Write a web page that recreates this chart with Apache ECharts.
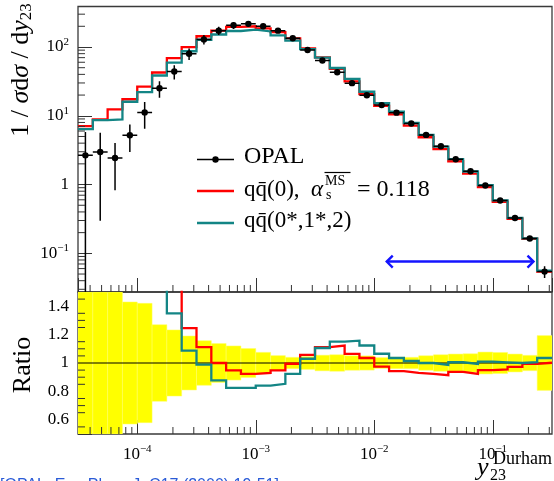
<!DOCTYPE html>
<html><head><meta charset="utf-8">
<script src="https://cdn.jsdelivr.net/npm/echarts@6/dist/echarts.min.js"></script>
<style>html,body{margin:0;padding:0;background:#fff}#c{width:554px;height:481px}</style>
</head><body><div id="c"></div>
<script>
// ---- data ----
const binEdges = [3.162e-5, 4.217e-5, 5.623e-5, 7.499e-5, 1.000e-4, 1.334e-4, 1.778e-4, 2.371e-4,
  3.162e-4, 4.217e-4, 5.623e-4, 7.499e-4, 1.000e-3, 1.334e-3, 1.778e-3, 2.371e-3,
  3.162e-3, 4.217e-3, 5.623e-3, 7.499e-3, 1.000e-2, 1.334e-2, 1.778e-2, 2.371e-2,
  3.162e-2, 4.217e-2, 5.623e-2, 7.499e-2, 1.000e-1, 1.334e-1, 1.778e-1, 2.371e-1, 3.162e-1];
const opal = [2.66, 2.98, 2.43, 5.2, 11.2, 25.1, 44, 79.8, 129, 173, 207, 217, 200, 173, 134, 90.3,
  63.5, 43, 29.8, 19.9, 14.3, 11.1, 7.74, 5.27, 3.6, 2.33, 1.56, 0.97, 0.587, 0.327, 0.164, 0.0542];
const opalRelErr = [1.18, 0.9, 0.66, 0.43, 0.42, 0.27, 0.233, 0.19, 0.157, 0.137, 0.12, 0.102, 0.075, 0.052, 0.04, 0.045,
  0.055, 0.058, 0.051, 0.05, 0.038, 0.04, 0.04, 0.051, 0.058, 0.063, 0.065, 0.077, 0.074, 0.063, 0.054, 0.193];
const predRed = [7.06, 8.85, 12.4, 17.4, 26.5, 42.6, 69, 99.4, 143.4, 173, 196.2, 200.3, 186, 164, 133.3, 95.5,
  70.6, 48.3, 31.7, 20.6, 13.93, 10.46, 7.2, 4.87, 3.29, 2.183, 1.44, 0.922, 0.561, 0.318, 0.1629, 0.0543];
const predTeal = [6.4, 8.65, 8.85, 16.0, 22.0, 38.5, 59.4, 86.7, 127.5, 151.9, 170.8, 179, 168.2, 147.6, 123.7, 93.0,
  70.2, 49.5, 34.5, 22.35, 15.23, 11.49, 7.85, 5.27, 3.55, 2.342, 1.549, 0.979, 0.59, 0.327, 0.1651, 0.0561];
const fitRange = [0.0125, 0.225];
const fitArrowY = 0.076;
const legendLabels = ['OPAL', 'qq\u0304(0),', 'qq\u0304(0*,1*,2)'];
const ratioMajor = [0.6, 0.8, 1, 1.2, 1.4];
const ratioMinorStep = 0.05;
const logMult = [2, 3, 4, 5, 6, 7, 8, 9];
const decades = [-5, -4, -3, -2, -1, 0, 1, 2];

const X_MIN = binEdges[0], X_MAX = binEdges[binEdges.length - 1];
const Y_MIN = 0.0274, Y_MAX = 388;
const RED = '#ff0000', TEAL = '#138585', FRAME = '#3a3a3a';
const FONT = '"Liberation Serif", "DejaVu Serif", serif';

const chart = echarts.init(document.getElementById('c'), null, {renderer: 'canvas'});

function powLabel(v) {
  const e = Math.log10(v), n = Math.round(e);
  if (Math.abs(e - n) > 1e-6) return '';
  if (n === 0) return '{b|1}';
  return '{b|10}{s|' + (n < 0 ? '\u2212' + (-n) : n) + '}';
}
const labelRich = {
  b: {fontFamily: FONT, fontSize: 17, color: '#000', verticalAlign: 'middle'},
  s: {fontFamily: FONT, fontSize: 11, color: '#000', padding: [0, 0, 10, 0], verticalAlign: 'middle'}
};
function stepData(vals) {
  const d = vals.map((v, i) => [binEdges[i], v]);
  d.push([binEdges[vals.length], vals[vals.length - 1]]);
  return d;
}
const ratioRed = predRed.map((v, i) => v / opal[i]);
const ratioTeal = predTeal.map((v, i) => v / opal[i]);

// minor tick lists (axis decoration)
const xMinor = [];
decades.forEach(d => logMult.forEach(m => { const v = m * Math.pow(10, d); if (v > X_MIN && v < X_MAX) xMinor.push(v); }));
const yMinor = [];
decades.forEach(d => logMult.forEach(m => { const v = m * Math.pow(10, d); if (v > Y_MIN && v < Y_MAX) yMinor.push(v); }));
const rMinor = [];
for (let k = 1; k < 20; k++) { const v = 0.5 + k * ratioMinorStep; if (!ratioMajor.some(r => Math.abs(r - v) < 1e-6)) rMinor.push(v); }

function tickSeries(xi, yi, xs, ys, yRef, xRef) {
  const items = xs.map(v => [v, yRef, 0, 7]).concat(ys.map(v => [xRef, v, 1, 7]));
  return {
    type: 'custom', xAxisIndex: xi, yAxisIndex: yi, silent: true, clip: false, z: 10,
    data: items, encode: {x: 0, y: 1},
    renderItem(params, api) {
      const cs = params.coordSys;
      const p = api.coord([api.value(0), api.value(1)]);
      const len = api.value(3);
      const shape = api.value(2) === 0
        ? {x1: p[0], y1: cs.y + cs.height, x2: p[0], y2: cs.y + cs.height - len}
        : {x1: cs.x, y1: p[1], x2: cs.x + len, y2: p[1]};
      return {type: 'line', shape, style: {stroke: '#333', lineWidth: 1}};
    }
  };
}

const tickCommon = {show: true, inside: true, length: 14, lineStyle: {color: '#333', width: 1}};

const option = {
  animation: false,
  backgroundColor: '#fff',
  grid: [
    {left: 78, top: 6.5, width: 474, height: 285.5, show: true, borderColor: FRAME, borderWidth: 1.3, backgroundColor: 'transparent'},
    {left: 78, top: 292, width: 474, height: 142, show: true, borderColor: FRAME, borderWidth: 1.3, backgroundColor: 'transparent'}
  ],
  xAxis: [
    {type: 'log', logBase: 10, gridIndex: 0, min: X_MIN, max: X_MAX, axisLine: {show: false}, axisTick: tickCommon,
      axisLabel: {show: false}, splitLine: {show: false}},
    {type: 'log', logBase: 10, gridIndex: 1, min: X_MIN, max: X_MAX, axisLine: {show: false}, axisTick: tickCommon,
      axisLabel: {show: true, margin: 10, formatter: powLabel, rich: labelRich, showMinLabel: false, showMaxLabel: false},
      splitLine: {show: false}}
  ],
  yAxis: [
    {type: 'log', logBase: 10, gridIndex: 0, min: Y_MIN, max: Y_MAX, axisLine: {show: false}, axisTick: tickCommon,
      axisLabel: {margin: 9, formatter: powLabel, rich: labelRich, showMinLabel: false, showMaxLabel: false}, splitLine: {show: false}},
    {type: 'value', gridIndex: 1, min: 0.5, max: 1.5, axisLine: {show: false}, axisTick: tickCommon,
      axisLabel: {margin: 9, fontFamily: FONT, fontSize: 17, color: '#000',
        formatter: v => (Math.abs(v - 0.5) < 1e-6 || Math.abs(v - 1.5) < 1e-6) ? '' : (Math.abs(v - 1) < 1e-6 ? '1' : v.toFixed(1))},
      splitLine: {show: false}}
  ],
  series: [
    // ratio panel: data uncertainty band
    {type: 'custom', name: 'band', xAxisIndex: 1, yAxisIndex: 1, silent: true, clip: true, z: 1,
      data: opal.map((v, i) => [binEdges[i], binEdges[i + 1], 1 - opalRelErr[i], 1 + opalRelErr[i]]),
      encode: {x: [0, 1], y: [2, 3]},
      renderItem(params, api) {
        const a = api.coord([api.value(0), api.value(3)]);
        const b = api.coord([api.value(1), api.value(2)]);
        const shape = echarts.graphic.clipRectByRect({x: a[0], y: a[1], width: b[0] - a[0], height: b[1] - a[1]}, params.coordSys);
        if (!shape) return null;
        return {type: 'rect', shape, style: {fill: '#ffff00', stroke: '#ffff66', lineWidth: 0.5}};
      }},
    {type: 'line', name: 'unity', xAxisIndex: 1, yAxisIndex: 1, data: [[X_MIN, 1], [X_MAX, 1]], showSymbol: false, silent: true, z: 2,
      lineStyle: {color: '#000', width: 1}},
    {type: 'line', name: 'ratioRed', xAxisIndex: 1, yAxisIndex: 1, data: stepData(ratioRed), step: 'end', showSymbol: false, clip: true, z: 3,
      lineStyle: {color: RED, width: 2.3, join: 'miter', cap: 'butt'}},
    {type: 'line', name: 'ratioTeal', xAxisIndex: 1, yAxisIndex: 1, data: stepData(ratioTeal), step: 'end', showSymbol: false, clip: true, z: 4,
      lineStyle: {color: TEAL, width: 2.3, join: 'miter', cap: 'butt'}},
    // main panel
    {type: 'line', name: 'predRed', xAxisIndex: 0, yAxisIndex: 0, data: stepData(predRed), step: 'end', showSymbol: false, clip: true, z: 3,
      lineStyle: {color: RED, width: 2.3, join: 'miter', cap: 'butt'}},
    {type: 'line', name: 'predTeal', xAxisIndex: 0, yAxisIndex: 0, data: stepData(predTeal), step: 'end', showSymbol: false, clip: true, z: 4,
      lineStyle: {color: TEAL, width: 2.3, join: 'miter', cap: 'butt'}},
    {type: 'custom', name: 'OPAL', xAxisIndex: 0, yAxisIndex: 0, silent: true, clip: true, z: 5,
      data: opal.map((v, i) => [Math.sqrt(binEdges[i] * binEdges[i + 1]), v,
        Math.max(v * (1 - opalRelErr[i]), 1e-4), v * (1 + opalRelErr[i]), binEdges[i], binEdges[i + 1]]),
      encode: {x: 0, y: 1},
      renderItem(params, api) {
        const c = api.coord([api.value(0), api.value(1)]);
        const lo = api.coord([api.value(0), api.value(2)]);
        const hi = api.coord([api.value(0), api.value(3)]);
        const l = api.coord([api.value(4), api.value(1)]);
        const r = api.coord([api.value(5), api.value(1)]);
        const st = {stroke: '#000', lineWidth: 1.5};
        return {type: 'group', children: [
          {type: 'line', shape: {x1: l[0], y1: c[1], x2: r[0], y2: c[1]}, style: st},
          {type: 'line', shape: {x1: c[0], y1: lo[1], x2: c[0], y2: hi[1]}, style: st},
          {type: 'circle', shape: {cx: c[0], cy: c[1], r: 3.2}, style: {fill: '#000'}}
        ]};
      }},
    {type: 'custom', name: 'fitRange', xAxisIndex: 0, yAxisIndex: 0, silent: true, clip: false, z: 6,
      data: [[fitRange[0], fitArrowY, fitRange[1]]],
      encode: {x: 0, y: 1},
      renderItem(params, api) {
        const a = api.coord([api.value(0), api.value(1)]);
        const b = api.coord([api.value(2), api.value(1)]);
        const st = {stroke: '#1414ff', lineWidth: 2.4, fill: null};
        return {type: 'group', children: [
          {type: 'line', shape: {x1: a[0] + 1, y1: a[1], x2: b[0] - 1, y2: b[1]}, style: st},
          {type: 'polyline', shape: {points: [[a[0] + 7, a[1] - 6], [a[0] + 1, a[1]], [a[0] + 7, a[1] + 6]]}, style: st},
          {type: 'polyline', shape: {points: [[b[0] - 7, b[1] - 6], [b[0] - 1, b[1]], [b[0] - 7, b[1] + 6]]}, style: st}
        ]};
      }},
    tickSeries(0, 0, xMinor, yMinor, 1, 1e-3),
    tickSeries(1, 1, xMinor, rMinor, 1, 1e-3)
  ],
  graphic: [
    {type: 'line', silent: true, shape: {x1: 197, y1: 159.5, x2: 234, y2: 159.5}, style: {stroke: '#000', lineWidth: 1.5}},
    {type: 'circle', silent: true, shape: {cx: 215.5, cy: 159.5, r: 3.2}, style: {fill: '#000'}},
    {type: 'text', silent: true, x: 244, y: 157, style: {text: legendLabels[0], font: '24px ' + FONT, fill: '#000', verticalAlign: 'middle'}},
    {type: 'line', silent: true, shape: {x1: 197, y1: 191, x2: 234, y2: 191}, style: {stroke: RED, lineWidth: 2.5}},
    {type: 'text', silent: true, x: 244, y: 190, style: {text: legendLabels[1], font: '23px ' + FONT, fill: '#000', verticalAlign: 'middle'}},
    {type: 'text', silent: true, x: 311, y: 190, style: {text: '\u03b1', font: 'italic 23px ' + FONT, fill: '#000', verticalAlign: 'middle'}},
    {type: 'text', silent: true, x: 325, y: 181, style: {text: 'MS', font: '14px ' + FONT, fill: '#000', verticalAlign: 'middle'}},
    {type: 'line', silent: true, shape: {x1: 324.5, y1: 172.5, x2: 350.5, y2: 172.5}, style: {stroke: '#000', lineWidth: 1.2}},
    {type: 'text', silent: true, x: 326, y: 195, style: {text: 's', font: '14px ' + FONT, fill: '#000', verticalAlign: 'middle'}},
    {type: 'text', silent: true, x: 357, y: 190, style: {text: '= 0.118', font: '24px ' + FONT, fill: '#000', verticalAlign: 'middle'}},
    {type: 'line', silent: true, shape: {x1: 197, y1: 223, x2: 234, y2: 223}, style: {stroke: TEAL, lineWidth: 2.5}},
    {type: 'text', silent: true, x: 244, y: 221, style: {text: legendLabels[2], font: '23px ' + FONT, fill: '#000', verticalAlign: 'middle'}},
    {type: 'text', silent: true, x: 21, y: 70, rotation: Math.PI / 2,
      style: {text: '{n|1 / }{i|\u03c3}{n|d}{i|\u03c3}{n| / d}{i|y}{s|23}', align: 'center', verticalAlign: 'middle',
        rich: {n: {fontFamily: FONT, fontSize: 26, fill: '#000', verticalAlign: 'middle'},
               i: {fontFamily: FONT, fontSize: 26, fontStyle: 'italic', fill: '#000', verticalAlign: 'middle'},
               s: {fontFamily: FONT, fontSize: 17, fill: '#000', padding: [12, 0, 0, 0], verticalAlign: 'middle'}}}},
    {type: 'text', silent: true, x: 23, y: 365, rotation: Math.PI / 2,
      style: {text: 'Ratio', font: '26px ' + FONT, fill: '#000', align: 'center', verticalAlign: 'middle'}},
    {type: 'text', silent: true, x: 477, y: 468, style: {text: 'y', font: 'italic 26px ' + FONT, fill: '#000', verticalAlign: 'middle'}},
    {type: 'text', silent: true, x: 490, y: 476, style: {text: '23', font: '16px ' + FONT, fill: '#000', verticalAlign: 'middle'}},
    {type: 'text', silent: true, x: 552, y: 459, style: {text: 'Durham', font: '18px ' + FONT, fill: '#000', align: 'right', verticalAlign: 'middle'}},
    {type: 'text', silent: true, x: 0, y: 478, style: {text: '[OPAL, Eur. Phys. J. C17 (2000) 19-51]', font: '16px "Liberation Sans", sans-serif', fill: '#2a5bd7', verticalAlign: 'top'}}
  ]
};
chart.setOption(option);
</script>
</body></html>
